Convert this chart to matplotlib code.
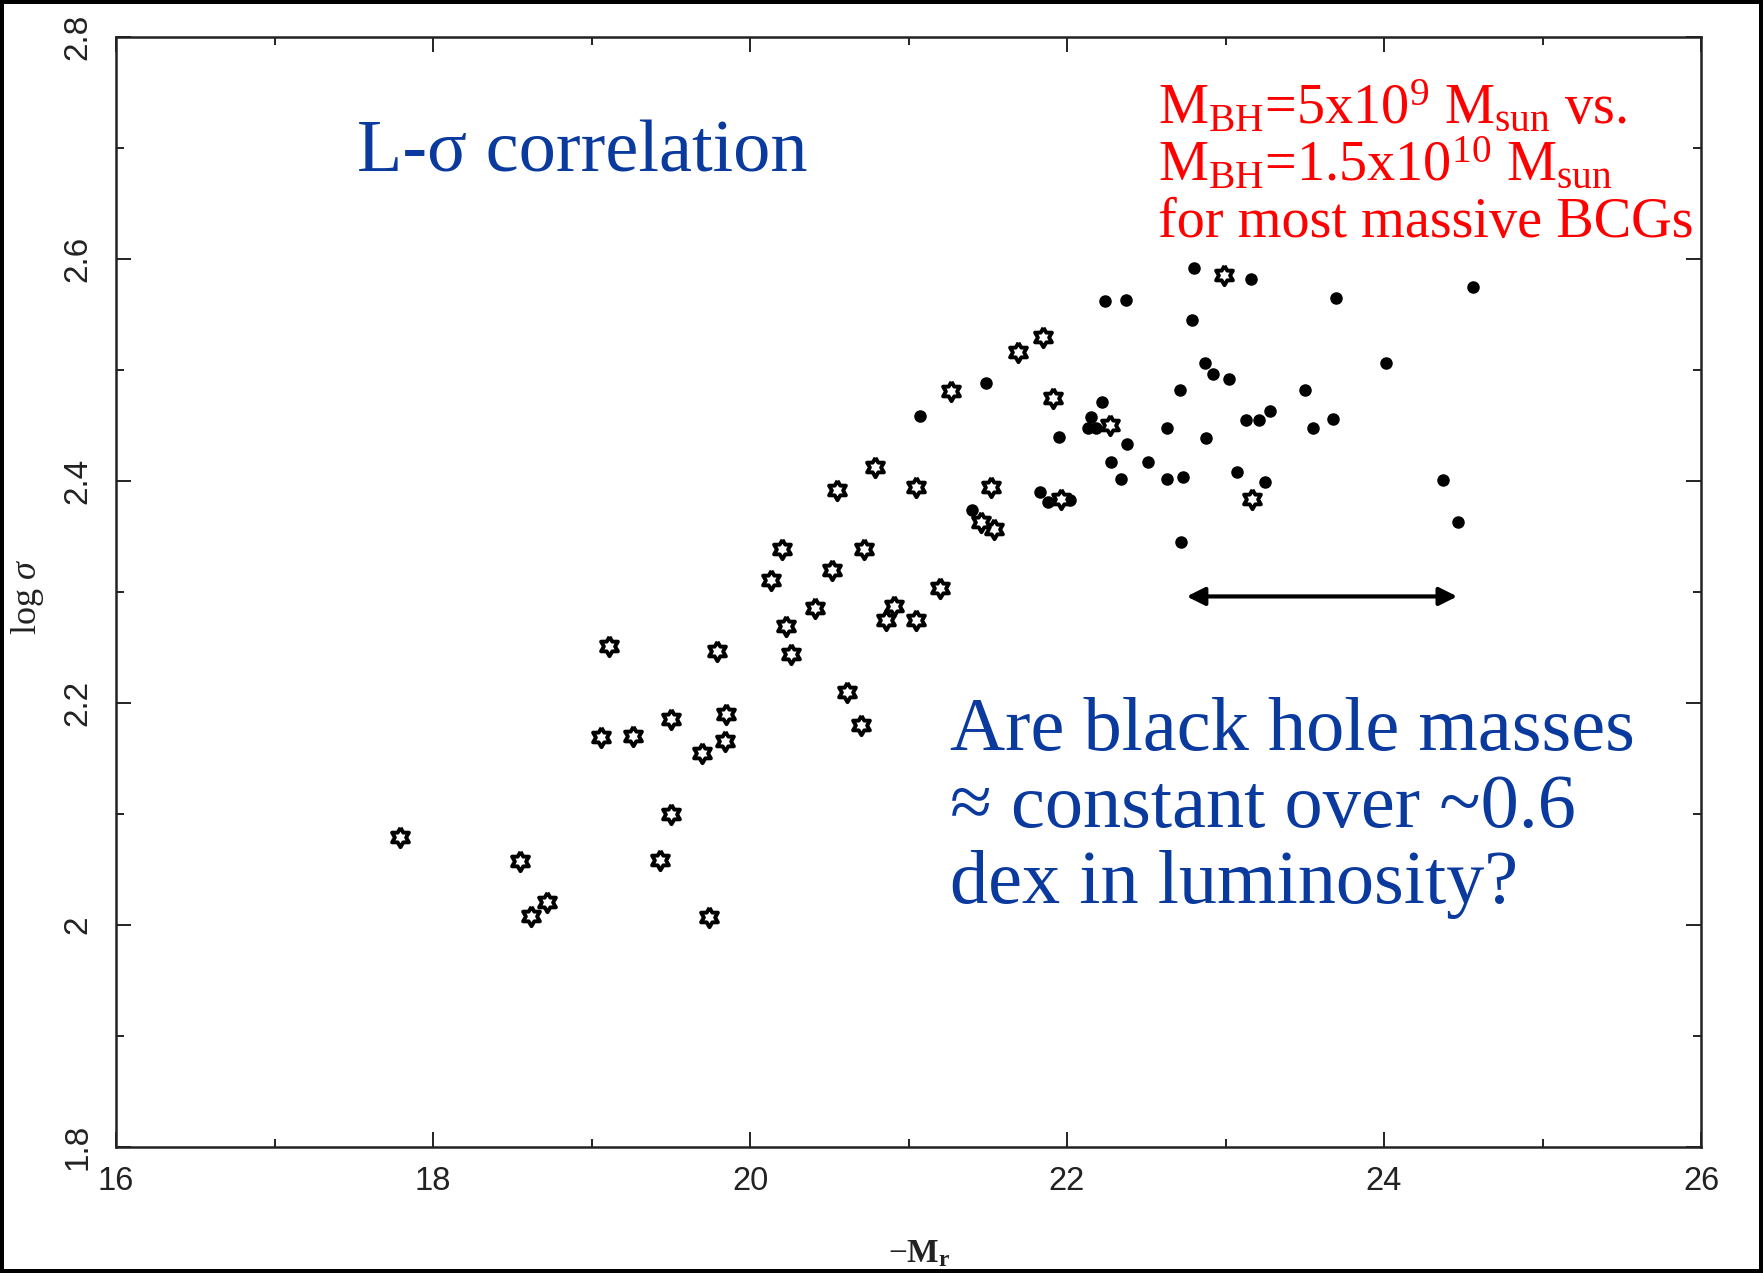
import numpy as np
import matplotlib
matplotlib.use('Agg')
import matplotlib.pyplot as plt
from matplotlib.ticker import MultipleLocator

plt.rcParams['mathtext.fontset'] = 'custom'
plt.rcParams['mathtext.rm'] = 'Liberation Serif'
plt.rcParams['mathtext.it'] = 'Liberation Serif:italic'
plt.rcParams['mathtext.bf'] = 'Liberation Serif:bold'

# Open symbols (six-pointed stars)
star_x = [17.79, 18.55, 18.62, 18.72, 19.11, 19.06, 19.26, 19.50, 19.50, 19.43,
          19.70, 19.74, 19.79, 19.85, 19.84, 20.13, 20.20, 20.23, 20.26, 20.41,
          20.52, 20.55, 20.61, 20.70, 20.72, 20.79, 20.86, 20.91, 21.05, 21.05,
          21.20, 21.27, 21.52, 21.54, 21.46, 21.69, 21.85, 21.91, 21.96, 22.27,
          22.99, 23.17]
star_y = [2.079, 2.058, 2.008, 2.021, 2.251, 2.169, 2.170, 2.186, 2.100, 2.059,
          2.155, 2.007, 2.247, 2.190, 2.166, 2.311, 2.339, 2.269, 2.244, 2.286,
          2.320, 2.392, 2.210, 2.180, 2.339, 2.413, 2.275, 2.287, 2.275, 2.395,
          2.304, 2.481, 2.395, 2.357, 2.363, 2.516, 2.530, 2.475, 2.384, 2.450,
          2.586, 2.384]

# Filled symbols (BCGs)
dot_x = [22.80, 23.16, 22.24, 22.37, 22.79, 23.70, 24.56, 21.49, 21.07, 22.87,
         22.92, 23.02, 22.71, 23.50, 24.01, 22.22, 22.15, 22.13, 22.18, 22.63,
         23.13, 23.21, 23.28, 23.68, 23.55, 22.88, 21.95, 22.38, 22.28, 22.51,
         22.34, 22.63, 22.73, 23.07, 23.25, 24.37, 24.47, 22.72, 21.83, 21.88,
         22.02, 21.40, 21.45]
dot_y = [2.592, 2.582, 2.562, 2.563, 2.545, 2.565, 2.575, 2.488, 2.459, 2.506,
         2.496, 2.492, 2.482, 2.482, 2.506, 2.471, 2.458, 2.448, 2.448, 2.448,
         2.455, 2.455, 2.463, 2.456, 2.448, 2.439, 2.440, 2.433, 2.417, 2.417,
         2.402, 2.402, 2.404, 2.408, 2.399, 2.401, 2.363, 2.345, 2.390, 2.381,
         2.383, 2.374, 2.362]

x_ticks = [16, 18, 20, 22, 24, 26]
y_ticks = [1.8, 2.0, 2.2, 2.4, 2.6, 2.8]
y_tick_labels = ['1.8', '2', '2.2', '2.4', '2.6', '2.8']

# range of the BCG luminosities marked by the arrow
arrow_x = [22.755, 24.462]
arrow_y = 2.296

W, H = 1763, 1273
blue = '#0a3a9e'
red = '#ff0000'


def fpos(x, y):
    # pixel position (from top-left) -> figure fraction
    return x / W, 1 - y / H


fig = plt.figure(figsize=(W / 100, H / 100), dpi=100)
fig.patch.set_edgecolor('black')
fig.patch.set_linewidth(4.5)
ax = fig.add_axes([116 / W, 1 - 1147 / H, 1585 / W, 1110 / H])

# hexagram outline used as marker
ang = np.deg2rad(90 + 30 * np.arange(12))
rad = np.where(np.arange(12) % 2 == 0, 1.0, 1 / np.sqrt(3))
hexagram = list(zip(rad * np.cos(ang), rad * np.sin(ang)))
hexagram.append(hexagram[0])

ax.plot(dot_x, dot_y, 'o', color='black', markersize=8, zorder=3)
ax.plot(star_x, star_y, linestyle='none', marker=hexagram, markersize=14,
        markerfacecolor='white', markeredgecolor='black', markeredgewidth=2.8,
        zorder=4)

ax.annotate('', xy=(arrow_x[1], arrow_y), xytext=(arrow_x[0], arrow_y),
            arrowprops=dict(arrowstyle='<|-|>', color='black', lw=3,
                            mutation_scale=27, shrinkA=0, shrinkB=0))

ax.set_xlim(16, 26)
ax.set_ylim(1.8, 2.8)
ax.set_xticks(x_ticks)
ax.set_yticks(y_ticks)
ax.set_yticklabels(y_tick_labels)
ax.xaxis.set_minor_locator(MultipleLocator(1))
ax.yaxis.set_minor_locator(MultipleLocator(0.1))
ax.tick_params(which='both', direction='in', top=True, right=True,
               color='#222222', width=1.4)
ax.tick_params(which='major', length=11)
ax.tick_params(which='minor', length=6)
ax.tick_params(axis='x', which='major', pad=14, labelsize=23.5,
               labelcolor='#222222')
ax.tick_params(axis='y', which='major', pad=16, labelsize=24,
               labelcolor='#222222', labelrotation=90)
for lab in ax.get_xticklabels() + ax.get_yticklabels():
    lab.set_family('Liberation Sans')
for lab in ax.get_yticklabels():
    lab.set_verticalalignment('center')
for sp in ax.spines.values():
    sp.set_linewidth(1.8)
    sp.set_color('#222222')

ax.set_xlabel(r'$-\mathbf{M}_{\mathbf{r}}$', fontsize=24, color='#222222')
ax.xaxis.set_label_coords(0.507, -0.080)
ax.set_ylabel(r'log $\mathit{\sigma}$', fontsize=26, color='#222222',
              family='Liberation Serif')
ax.yaxis.set_label_coords(-0.044, 0.496)

# annotations
fig.text(*fpos(357, 171), 'L-σ correlation', color=blue, fontsize=53.5,
         family='Liberation Serif', va='baseline', ha='left')

question = ['Are black hole masses', '≈ constant over ~0.6',
            'dex in luminosity?']
for i, line in enumerate(question):
    fig.text(*fpos(950, 750 + 76.5 * i), line, color=blue, fontsize=55,
             family='Liberation Serif', va='baseline', ha='left')

bh_lines = [r'M$_{\mathrm{BH}}$=5x10$^{\mathrm{9}}$ M$_{\mathrm{sun}}$ vs.',
            r'M$_{\mathrm{BH}}$=1.5x10$^{\mathrm{10}}$ M$_{\mathrm{sun}}$',
            'for most massive BCGs']
for i, line in enumerate(bh_lines):
    fig.text(*fpos(1158, 123 + 57 * i), line, color=red, fontsize=40.5,
             family='Liberation Serif', va='baseline', ha='left')

fig.savefig('out.png', dpi=100, edgecolor=fig.get_edgecolor())
